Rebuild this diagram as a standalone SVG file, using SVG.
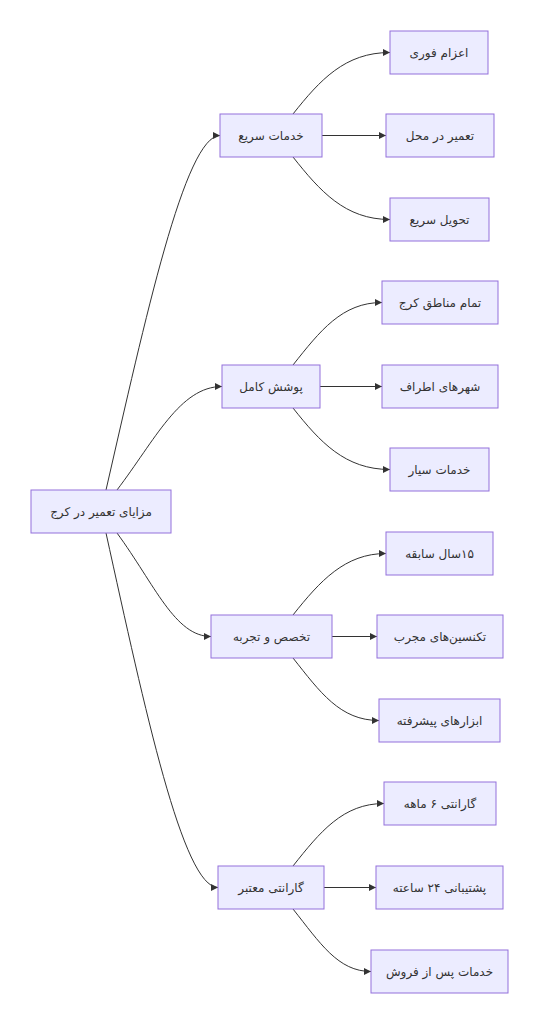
<svg xmlns="http://www.w3.org/2000/svg" width="539" height="1024" viewBox="0 0 539 1024">
<style>
.node rect{fill:#ECECFF;stroke:#9370DB;stroke-width:1}
.node text{font-family:"DejaVu Sans",sans-serif;font-size:12px;fill:#333;text-anchor:middle;dominant-baseline:central}
.edges path{fill:none;stroke:#333;stroke-width:1}
</style>
<defs>
<marker id="arr" viewBox="0 0 10 10" refX="10" refY="5" markerWidth="7" markerHeight="7" markerUnits="userSpaceOnUse" orient="auto">
<path d="M0,0 L10,5 L0,10 z" fill="#333"/>
</marker>
</defs>
<rect width="539" height="1024" fill="#fff"/>
<g class="edges" marker-end="url(#arr)">
<path d="M106,490 C145,320 185,135.5 220,135.5"/>
<path d="M117,490 C155,440 180,386.5 222,386.5"/>
<path d="M117,533 C155,585 175,636.5 211,636.5"/>
<path d="M106,533 C145,710 183,887.5 218,887.5"/>
<path d="M293,114 C320,80 345,52.5 390,52.5"/>
<path d="M322,135.5 L386,135.5"/>
<path d="M293,157 C320,191 345,219.5 390,219.5"/>
<path d="M293,365 C320,331 342,302.5 382,302.5"/>
<path d="M320,386.5 L382,386.5"/>
<path d="M293,408 C320,442 345,469.5 390,469.5"/>
<path d="M293,615 C320,581 345,553.5 386,553.5"/>
<path d="M332,636.5 L377,636.5"/>
<path d="M293,658 C320,692 340,720.5 379,720.5"/>
<path d="M293,866 C320,832 343,803.5 384,803.5"/>
<path d="M324,887.5 L376,887.5"/>
<path d="M293,909 C320,943 338,971.5 371,971.5"/>
</g>
<g id="root" class="node"><rect x="31" y="490" width="140" height="43"/><text x="101" y="511.5" direction="rtl">مزایای تعمیر در کرج</text></g>
<g id="g1" class="node"><rect x="220" y="114" width="102" height="43"/><text x="271" y="135.5" direction="rtl">خدمات سریع</text></g>
<g id="c1a" class="node"><rect x="390" y="31" width="98" height="43"/><text x="439" y="52.5" direction="rtl">اعزام فوری</text></g>
<g id="c1b" class="node"><rect x="386" y="114" width="108" height="43"/><text x="440" y="135.5" direction="rtl">تعمیر در محل</text></g>
<g id="c1c" class="node"><rect x="390" y="198" width="99" height="43"/><text x="439.5" y="219.5" direction="rtl">تحویل سریع</text></g>
<g id="g2" class="node"><rect x="222" y="365" width="98" height="43"/><text x="271" y="386.5" direction="rtl">پوشش کامل</text></g>
<g id="c2a" class="node"><rect x="382" y="281" width="116" height="43"/><text x="440" y="302.5" direction="rtl">تمام مناطق کرج</text></g>
<g id="c2b" class="node"><rect x="382" y="365" width="116" height="43"/><text x="440" y="386.5" direction="rtl">شهرهای اطراف</text></g>
<g id="c2c" class="node"><rect x="390" y="448" width="99" height="43"/><text x="439.5" y="469.5" direction="rtl">خدمات سیار</text></g>
<g id="g3" class="node"><rect x="211" y="615" width="121" height="43"/><text x="271.5" y="636.5" direction="rtl">تخصص و تجربه</text></g>
<g id="c3a" class="node"><rect x="386" y="532" width="107" height="43"/><text x="439.5" y="553.5" direction="rtl">۱۵سال سابقه</text></g>
<g id="c3b" class="node"><rect x="377" y="615" width="126" height="43"/><text x="440" y="636.5" direction="rtl">تکنسین&#8204;های مجرب</text></g>
<g id="c3c" class="node"><rect x="379" y="699" width="121" height="43"/><text x="439.5" y="720.5" direction="rtl">ابزارهای پیشرفته</text></g>
<g id="g4" class="node"><rect x="218" y="866" width="106" height="43"/><text x="271" y="887.5" direction="rtl">گارانتی معتبر</text></g>
<g id="c4a" class="node"><rect x="384" y="782" width="112" height="43"/><text x="440" y="803.5" direction="rtl">گارانتی ۶ ماهه</text></g>
<g id="c4b" class="node"><rect x="376" y="866" width="127" height="43"/><text x="439.5" y="887.5" direction="rtl">پشتیبانی ۲۴ ساعته</text></g>
<g id="c4c" class="node"><rect x="371" y="950" width="137" height="43"/><text x="439.5" y="971.5" direction="rtl">خدمات پس از فروش</text></g>
</svg>
